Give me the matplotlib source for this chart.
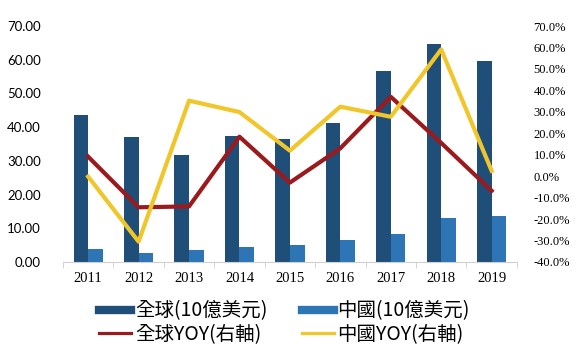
import matplotlib
matplotlib.use("Agg")
import matplotlib.pyplot as plt
import numpy as np
from matplotlib.lines import Line2D
from matplotlib.ticker import FuncFormatter, MultipleLocator

years = ["2011", "2012", "2013", "2014", "2015", "2016", "2017", "2018", "2019"]
global_val = [43.6, 37.0, 31.8, 37.5, 36.5, 41.3, 56.7, 64.6, 59.7]
china_val = [3.9, 2.6, 3.5, 4.5, 5.0, 6.6, 8.3, 13.1, 13.5]
global_yoy = [9.1, -14.5, -14.1, 18.4, -3.0, 13.0, 37.0, 15.5, -6.8]
china_yoy = [-0.2, -30.5, 35.2, 29.9, 11.9, 32.4, 27.7, 59.1, 2.5]
labels = ["全球(10億美元)", "中國(10億美元)", "全球YOY(右軸)", "中國YOY(右軸)"]

c_dark = "#1F4E79"
c_light = "#2E75B6"
c_red = "#9A1A1E"
c_yel = "#F0C62A"

fig = plt.figure(figsize=(5.88, 3.47), dpi=100)
ax = fig.add_axes([0.107, 0.245, 0.772, 0.68])
x = np.arange(len(years))
w = 0.29
ax.bar(x - w / 2, global_val, w, color=c_dark, zorder=2)
ax.bar(x + w / 2, china_val, w, color=c_light, zorder=2)
ax.set_ylim(0, 70)
ax.set_xlim(-0.5, len(years) - 0.5)
ax.yaxis.set_major_locator(MultipleLocator(10))
ax.yaxis.set_major_formatter(FuncFormatter(lambda v, p: f"{v:.2f}"))
ax.set_xticks(x)
ax.set_xticklabels(years, family="Liberation Serif", fontsize=10.5)
ax.set_xticks(np.arange(len(years) + 1) - 0.5, minor=True)
ax.tick_params(axis="x", which="major", length=0, pad=7)
ax.tick_params(axis="x", which="minor", length=4, color="#D0D0D0")
ax.tick_params(axis="y", length=0, pad=16, labelsize=9.5)
for t in ax.get_yticklabels():
    t.set_family("Lato")
for s in ["top", "left", "right"]:
    ax.spines[s].set_visible(False)
ax.spines["bottom"].set_color("#D0D0D0")

ax2 = ax.twinx()
ax2.plot(x, global_yoy, color=c_red, lw=3, zorder=3)
ax2.plot(x, china_yoy, color=c_yel, lw=3, zorder=3)
ax2.set_ylim(-40, 70)
ax2.yaxis.set_major_locator(MultipleLocator(10))
ax2.yaxis.set_major_formatter(FuncFormatter(lambda v, p: f"{v:.1f}%"))
ax2.tick_params(axis="y", length=0, pad=12, labelsize=9)
for t in ax2.get_yticklabels():
    t.set_family("Liberation Serif")
for s in ax2.spines.values():
    s.set_visible(False)

handles = [
    Line2D([], [], color=c_dark, lw=6),
    Line2D([], [], color=c_red, lw=2.3),
    Line2D([], [], color=c_light, lw=6),
    Line2D([], [], color=c_yel, lw=2.3),
]
fig.legend(handles, [labels[0], labels[2], labels[1], labels[3]], ncol=2,
           loc="center", bbox_to_anchor=(0.484, 0.07), frameon=False,
           prop={"family": ["Noto Sans CJK TC", "DejaVu Sans"], "size": 14},
           handlelength=1.65, handletextpad=0.2, columnspacing=1.75,
           labelspacing=0.12, borderpad=0)

fig.savefig("out.png", dpi=100)
